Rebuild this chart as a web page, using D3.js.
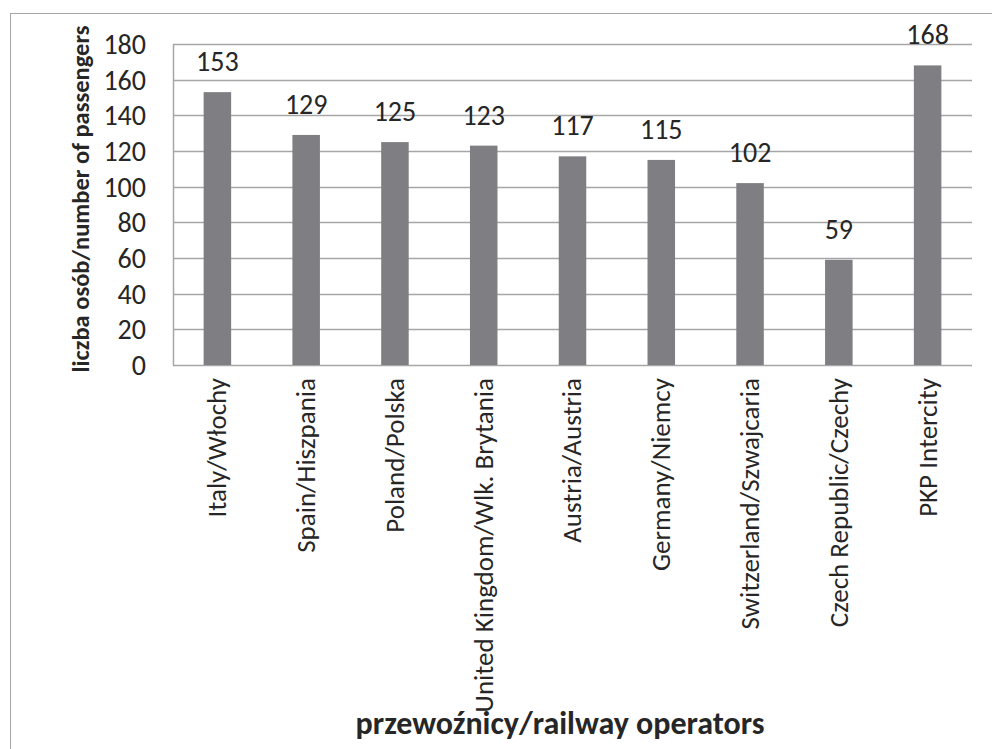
<!DOCTYPE html>
<html>
<head>
<meta charset="utf-8">
<script src="https://cdn.jsdelivr.net/npm/d3@7"></script>
<style>
  html, body { margin: 0; padding: 0; background: #fff; }
  svg { display: block; }
  text { font-family: Carlito, Lato, "Open Sans", sans-serif; fill: #262626; }
</style>
</head>
<body>
<svg id="chart" width="992" height="749"></svg>
<script>
const categories = [
  "Italy/Włochy",
  "Spain/Hiszpania",
  "Poland/Polska",
  "United Kingdom/Wlk. Brytania",
  "Austria/Austria",
  "Germany/Niemcy",
  "Switzerland/Szwajcaria",
  "Czech Republic/Czechy",
  "PKP Intercity"
];
const values = [153, 129, 125, 123, 117, 115, 102, 59, 168];
const valueLabels = ["153", "129", "125", "123", "117", "115", "102", "59", "168"];
const yTicks = [0, 20, 40, 60, 80, 100, 120, 140, 160, 180];
const yTitle = "liczba osób/number of passengers";
const xTitle = "przewoźnicy/railway operators";

const svg = d3.select("#chart");
const margin = { left: 173, top: 44 };
const plotW = 972 - margin.left;
const plotH = 365 - margin.top;
const FONT = "Carlito, Lato, 'Open Sans', sans-serif";

// outer frame (right and bottom edges fall outside the picture)
svg.append("rect")
  .attr("x", 10.5).attr("y", 13.5)
  .attr("width", 990).attr("height", 760)
  .attr("fill", "#fff").attr("stroke", "#a6a6a6").attr("stroke-width", 1);

const g = svg.append("g").attr("transform", `translate(${margin.left},${margin.top})`);

const x = d3.scaleBand().domain(categories).range([0, plotW]).paddingInner(0.69).paddingOuter(0.345);
const y = d3.scaleLinear().domain([0, 180]).range([plotH, 0]);

// gridlines
g.append("g").selectAll("line").data(yTicks).join("line")
  .attr("x1", 0).attr("x2", plotW)
  .attr("y1", d => Math.round(y(d)) + 0.5).attr("y2", d => Math.round(y(d)) + 0.5)
  .attr("stroke", "#a6a6a6").attr("stroke-width", 1.5);

// y axis
const yAxis = g.append("g").call(d3.axisLeft(y).tickValues(yTicks).tickSize(0).tickPadding(27));
yAxis.select(".domain").attr("stroke", "#a6a6a6").attr("stroke-width", 1.5);
yAxis.selectAll("text").attr("font-size", 28).attr("fill", "#262626")
  .attr("dy", "0.34em")
  .style("font-family", FONT);

// bars
g.append("g").selectAll("rect").data(values).join("rect")
  .attr("x", (d, i) => x(categories[i]))
  .attr("width", x.bandwidth())
  .attr("y", d => y(d))
  .attr("height", d => y(0) - y(d))
  .attr("fill", "#7f7f83");

// value labels
g.append("g").selectAll("text").data(values).join("text")
  .attr("x", (d, i) => x(categories[i]) + x.bandwidth() / 2)
  .attr("y", d => y(d) - 21)
  .attr("text-anchor", "middle")
  .attr("font-size", 28)
  .text((d, i) => valueLabels[i]);

// x axis labels
const xAxis = g.append("g").attr("transform", `translate(0,${plotH})`)
  .call(d3.axisBottom(x).tickSize(0).tickPadding(0));
xAxis.select(".domain").remove();
xAxis.selectAll("text")
  .attr("font-size", 27)
  .attr("fill", "#262626")
  .style("font-family", FONT)
  .attr("text-anchor", "end")
  .attr("transform", "rotate(-90)")
  .attr("x", -13)
  .attr("y", 0)
  .attr("dy", "0.33em");

// y title
svg.append("text")
  .attr("transform", `translate(89,199) rotate(-90)`)
  .attr("text-anchor", "middle")
  .attr("font-size", 24.5)
  .attr("font-weight", "bold")
  .text(yTitle);

// x title
svg.append("text")
  .attr("x", 560).attr("y", 734)
  .attr("text-anchor", "middle")
  .attr("font-size", 32)
  .attr("font-weight", "bold")
  .text(xTitle);
</script>
</body>
</html>
